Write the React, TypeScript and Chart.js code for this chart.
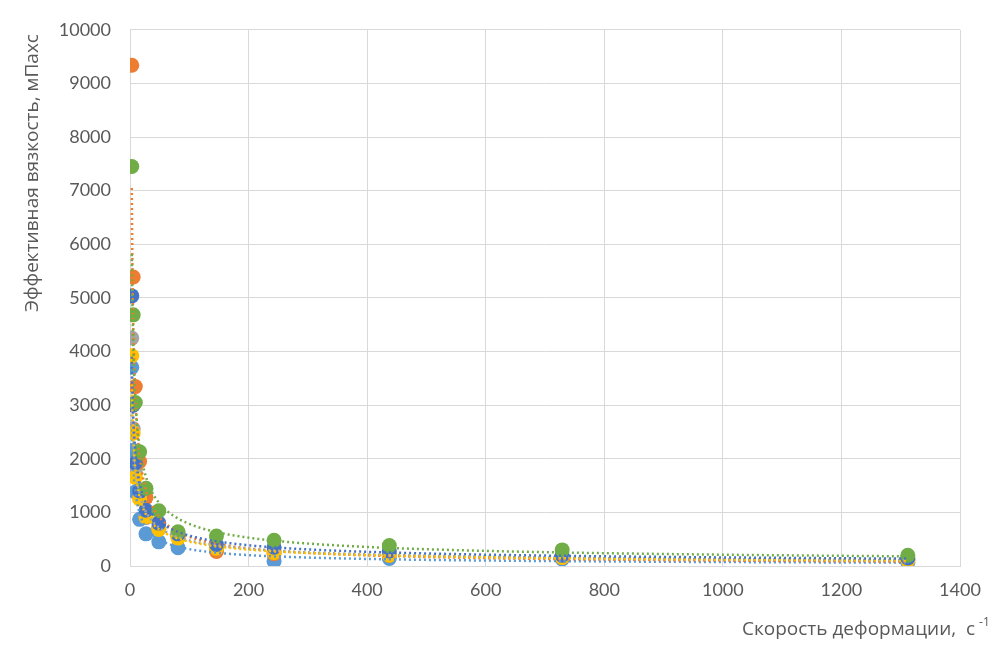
import React, { useEffect, useRef } from "react";
import { Chart, registerables } from "chart.js";

Chart.register(...registerables);

const X_VALUES = [3, 5.4, 9, 16.2, 27, 48.6, 81, 145.8, 243, 437.4, 729, 1312];

const SERIES_NAMES = ["Серия 1", "Серия 2", "Серия 3", "Серия 4", "Серия 5", "Серия 6"];
const LIGHT_BLUE = [3705, 2160, 1380, 870, 600, 450, 340, 300, 90, 140, 130, 70];
const ORANGE = [9340, 5390, 3346, 1950, 1280, 720, 560, 270, 230, 200, 160, 120];
const GRAY = [4250, 2560, 1750, 1280, 900, 700, 550, 350, 280, 220, 170, 110];
const YELLOW = [3922, 2480, 1650, 1250, 920, 680, 520, 330, 250, 200, 160, 110];
const DARK_BLUE = [5037, 3000, 1920, 1400, 1040, 800, 600, 400, 350, 280, 200, 150];
const GREEN = [7450, 4684, 3050, 2130, 1450, 1030, 640, 560, 480, 380, 300, 200];

const COLORS = ["#5B9BD5", "#ED7D31", "#A5A5A5", "#FFC000", "#4472C4", "#70AD47"];
const ALL_SERIES = [LIGHT_BLUE, ORANGE, GRAY, YELLOW, DARK_BLUE, GREEN];

const X_TICKS = [0, 200, 400, 600, 800, 1000, 1200, 1400];
const Y_TITLE = "Эффективная вязкость, мПахс";
const X_TITLE = "Скорость деформации,  с";
const X_TITLE_SUP = "-1";

function powerFit(xs: number[], ys: number[]) {
  const n = xs.length;
  let sx = 0, sy = 0, sxx = 0, sxy = 0;
  for (let i = 0; i < n; i++) {
    const lx = Math.log(xs[i]);
    const ly = Math.log(ys[i]);
    sx += lx; sy += ly; sxx += lx * lx; sxy += lx * ly;
  }
  const b = (n * sxy - sx * sy) / (n * sxx - sx * sx);
  const lnA = (sy - b * sx) / n;
  return { a: Math.exp(lnA), b };
}

function trendPoints(xs: number[], ys: number[]) {
  const { a, b } = powerFit(xs, ys);
  const minX = Math.min(...xs);
  const maxX = Math.max(...xs);
  const pts: { x: number; y: number }[] = [];
  const steps = 300;
  for (let i = 0; i <= steps; i++) {
    const x = minX * Math.pow(maxX / minX, i / steps);
    pts.push({ x, y: a * Math.pow(x, b) });
  }
  return pts;
}

const titlePlugin = {
  id: "customTitles",
  afterDraw(chart: any) {
    const ctx = chart.ctx;
    ctx.save();
    ctx.fillStyle = "#595959";
    ctx.font = "19px 'Open Sans'";
    ctx.translate(33, 173);
    ctx.rotate(-Math.PI / 2);
    ctx.textAlign = "center";
    ctx.textBaseline = "middle";
    ctx.fillText(Y_TITLE, 0, 0);
    ctx.restore();

    ctx.save();
    ctx.fillStyle = "#595959";
    ctx.font = "19px 'Open Sans'";
    ctx.textAlign = "left";
    ctx.textBaseline = "alphabetic";
    ctx.fillText(X_TITLE, 742, 635);
    const w = ctx.measureText(X_TITLE).width;
    ctx.font = "12px 'Open Sans'";
    ctx.fillText(X_TITLE_SUP, 742 + w + 4, 626);
    ctx.restore();
  },
};

export default function App() {
  const ref = useRef<HTMLCanvasElement>(null);

  useEffect(() => {
    if (!ref.current) return;
    const datasets: any[] = [];
    ALL_SERIES.forEach((ys, i) => {
      datasets.push({
        type: "line",
        label: SERIES_NAMES[i] + " тренд",
        data: trendPoints(X_VALUES, ys),
        borderColor: COLORS[i],
        borderWidth: 2.5,
        borderDash: [2, 3],
        pointRadius: 0,
        fill: false,
        tension: 0,
        order: 5 - i,
      });
      datasets.push({
        type: "scatter",
        label: SERIES_NAMES[i],
        data: X_VALUES.map((x, j) => ({ x, y: ys[j] })),
        backgroundColor: COLORS[i],
        borderColor: COLORS[i],
        pointRadius: 7.5,
        pointBorderWidth: 0,
        order: 20 - i,
      });
    });

    const chart = new Chart(ref.current, {
      type: "scatter",
      data: { datasets },
      options: {
        animation: false,
        responsive: false,
        layout: { padding: { left: 0, top: 28, right: 43, bottom: 0 } },
        plugins: { legend: { display: false }, tooltip: { enabled: false } },
        scales: {
          x: {
            type: "linear",
            min: 0,
            max: 1400,
            afterBuildTicks: (scale: any) => {
              scale.ticks = X_TICKS.map((v) => ({ value: v }));
            },
            afterFit: (scale: any) => {
              scale.height = 652 - 566;
            },
            grid: { color: "#d9d9d9", drawTicks: false, lineWidth: 1 },
            border: { color: "#d9d9d9" },
            ticks: {
              color: "#595959",
              font: { family: "Lato", size: 18 },
              padding: 13,
              maxRotation: 0,
              callback: (v: any) => String(v),
            },
          },
          y: {
            type: "linear",
            min: 0,
            max: 10000,
            afterFit: (scale: any) => {
              scale.width = 130;
            },
            grid: { color: "#d9d9d9", drawTicks: false, lineWidth: 1 },
            border: { color: "#d9d9d9" },
            ticks: {
              stepSize: 1000,
              color: "#595959",
              font: { family: "Lato", size: 18 },
              padding: 19,
              callback: (v: any) => String(v),
            },
          },
        },
      },
      plugins: [titlePlugin],
    });
    return () => chart.destroy();
  }, []);

  return (
    <div style={{ position: "fixed", left: 0, top: 0, width: 1003, height: 652, background: "#fff" }}>
      <canvas ref={ref} width={1003} height={652} style={{ display: "block" }} />
    </div>
  );
}
